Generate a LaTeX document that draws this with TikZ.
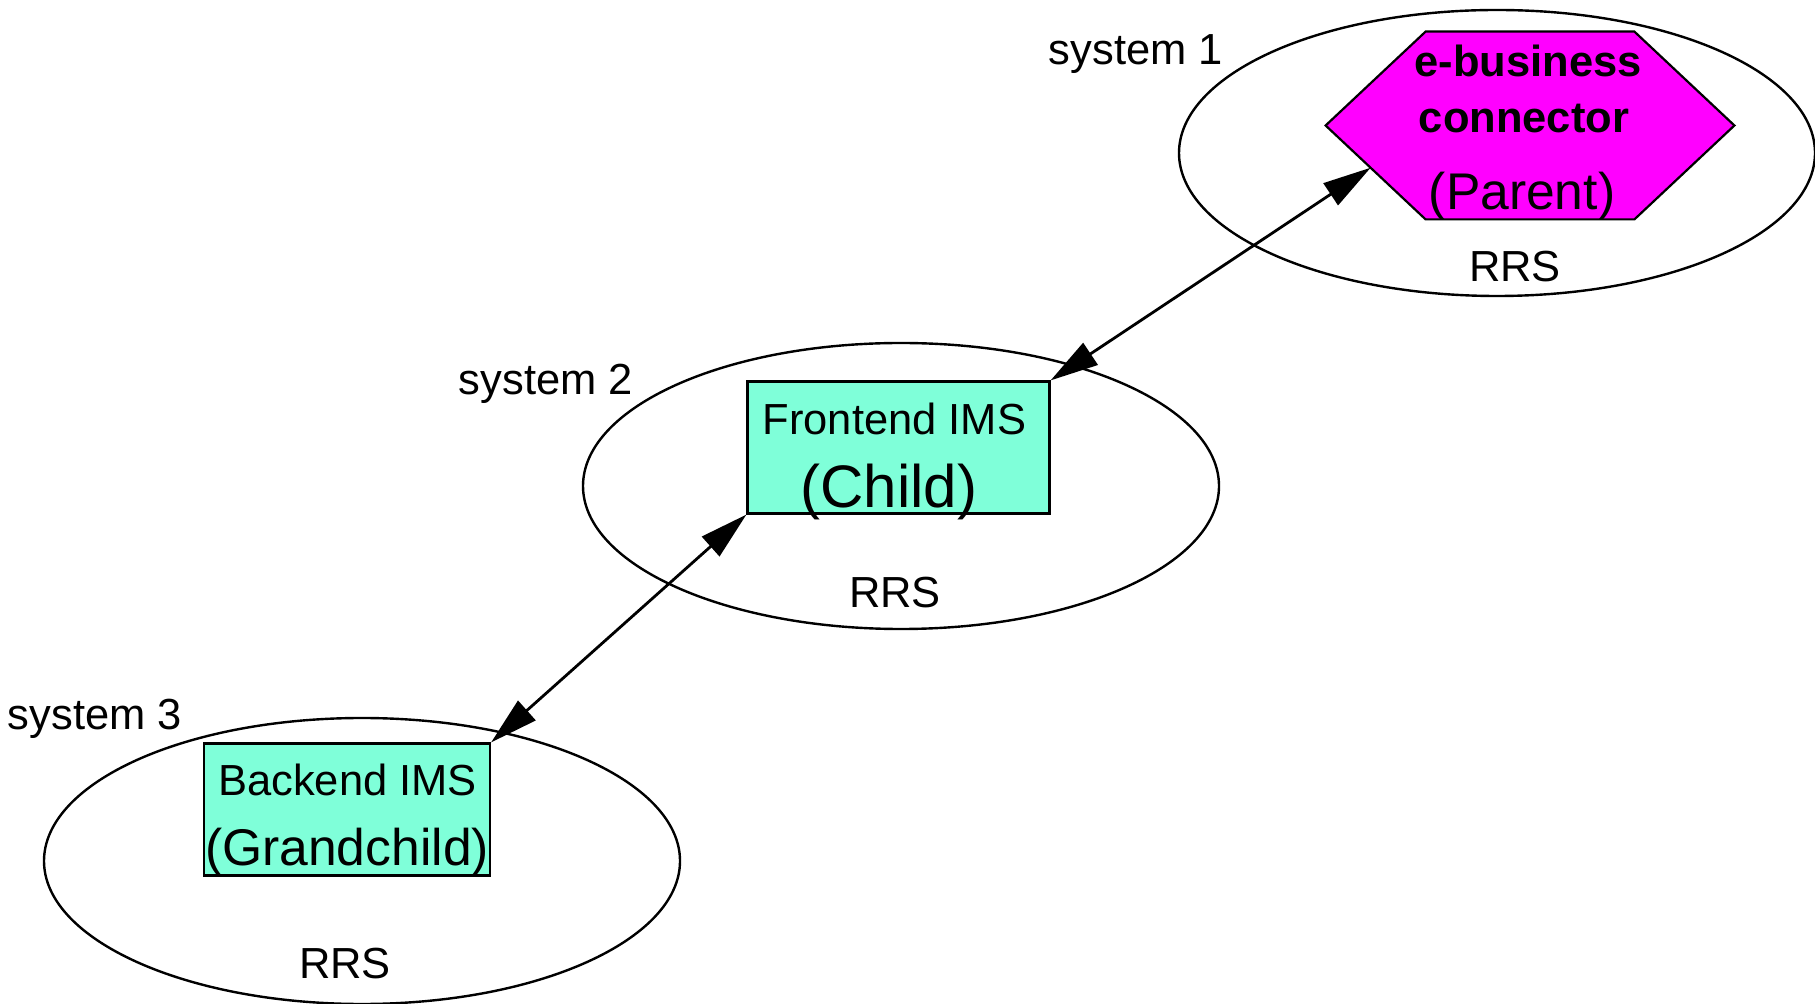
\documentclass[tikz,border=0pt]{standalone}
\usepackage{fontspec}
\setmainfont{Liberation Sans}
\usepackage{tikz}
\usetikzlibrary{arrows.meta, shapes.geometric, calc}
\definecolor{imscyan}{HTML}{7FFFD9}
\definecolor{connmagenta}{HTML}{FF00FF}

\begin{document}
\begin{tikzpicture}[x=0.5pt, y=-0.5pt,
        sysring/.style={draw, ellipse, line width=1.2pt, minimum width=318pt, minimum height=143pt, inner sep=0pt},
        imsbox/.style={draw, fill=imscyan, line width=1.1pt, minimum width=#1, minimum height=66pt, inner sep=0pt},
        txt/.style={inner sep=0pt, anchor=base, font=\fontsize{21.75pt}{26pt}\selectfont},
        bigtxt/.style={inner sep=0pt, anchor=base, font=\fontsize{#1}{#1}\selectfont},
        link/.style={{Triangle[length=24pt,width=13pt]}-{Triangle[length=24pt,width=13pt]}, line width=1.4pt}]
            \useasboundingbox (0,0) rectangle (1815,1004);
            % the three systems
            \node[sysring] (sysone) at (1497,153) {};
            \node[sysring] (systwo) at (901,486) {};
            \node[sysring] (systhree) at (362,861) {};
            \node[txt] (sysonelbl) at (1136,65) {system 1};
            \node[txt] (systwolbl) at (546,395) {system 2};
            \node[txt] (systhreelbl) at (95,730) {system 3};
            \node[txt] (rrsone) at (1515,282) {RRS};
            \node[txt] (rrstwo) at (895,608) {RRS};
            \node[txt] (rrsthree) at (345,978) {RRS};
            % parent
            \node[minimum width=204pt, minimum height=93.5pt, inner sep=0pt] (conn) at (1530,125.5) {};
            \draw[fill=connmagenta, line width=1.1pt] (conn.west) -- ([xshift=50pt]conn.north west) -- ([xshift=-50pt]conn.north east)
                -- (conn.east) -- ([xshift=-50pt]conn.south east) -- ([xshift=50pt]conn.south west) -- cycle;
            \coordinate (connin) at ($(conn.west)!0.45!([xshift=50pt]conn.south west)$);
            \node[txt, font=\fontsize{21.75pt}{26pt}\selectfont\bfseries] (connA) at (1528,77) {e-business};
            \node[txt, font=\fontsize{21.75pt}{26pt}\selectfont\bfseries] (connB) at (1524,133) {connector};
            \node[bigtxt=25.8pt] (connC) at (1522,210) {(Parent)};
            % child
            \node[imsbox=151pt] (front) at (898.5,447.5) {};
            \node[txt] (frontA) at (894.5,435) {Frontend IMS};
            \node[bigtxt=30pt] (frontB) at (889,508) {(Child)};
            % grandchild
            \node[imsbox=143pt] (back) at (347,809.5) {};
            \node[txt] (backA) at (347.5,796) {Backend IMS};
            \node[bigtxt=25.8pt] (backB) at (347,865) {(Grandchild)};
            % links
            \draw[link] (front.north east) -- (connin);
            \draw[link] (back.north east) -- (front.south west);
        \end{tikzpicture}
\end{document}
